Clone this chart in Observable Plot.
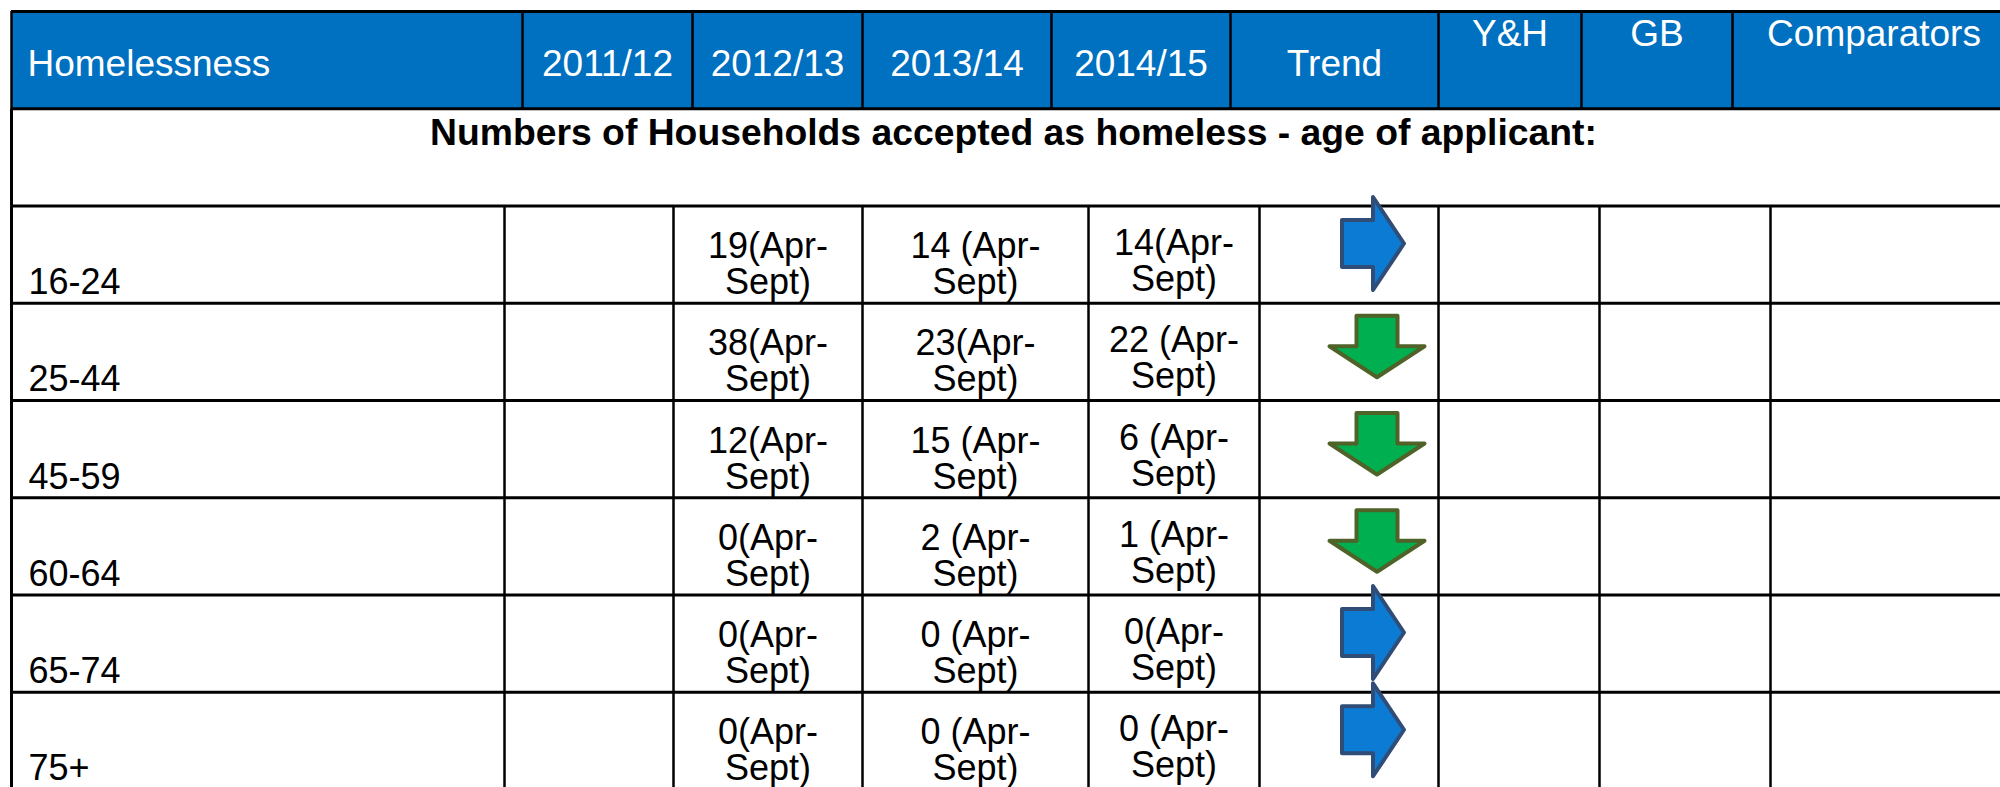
<!DOCTYPE html>
<html><head><meta charset="utf-8">
<script src="https://cdn.jsdelivr.net/npm/d3@7"></script>
<script src="https://cdn.jsdelivr.net/npm/@observablehq/plot@0.6"></script>
<style>html,body{margin:0;padding:0;background:#fff;overflow:hidden}</style>
</head><body><div id="chart"></div>
<script>
// ---- data ----
const headerLabels = ["Homelessness", "2011/12", "2012/13", "2013/14", "2014/15", "Trend", "Y&H", "GB", "Comparators"];
const tableTitle = "Numbers of Households accepted as homeless - age of applicant:";
const ageGroups = ["16-24", "25-44", "45-59", "60-64", "65-74", "75+"];
const values2011 = ["", "", "", "", "", ""];
const values2012 = ["19(Apr-Sept)", "38(Apr-Sept)", "12(Apr-Sept)", "0(Apr-Sept)", "0(Apr-Sept)", "0(Apr-Sept)"];
const values2013 = ["14 (Apr-Sept)", "23(Apr-Sept)", "15 (Apr-Sept)", "2 (Apr-Sept)", "0 (Apr-Sept)", "0 (Apr-Sept)"];
const values2014 = ["14(Apr-Sept)", "22 (Apr-Sept)", "6 (Apr-Sept)", "1 (Apr-Sept)", "0(Apr-Sept)", "0 (Apr-Sept)"];
const trend = ["same", "down", "down", "down", "same", "same"];

// ---- layout ----
const W = 2000, H = 787;
const headerEdges = [11, 522, 692, 862, 1051, 1230, 1438, 1581, 1732, 2015];
const bodyEdges = [11, 504, 673, 862, 1088, 1259, 1438, 1599, 1770, 2015];
const nRows = 2 + ageGroups.length;
const rowH = 97.25;
const FONT = "'Liberation Sans', Arial, Helvetica, sans-serif";
const topAligned = new Set(["Y&H", "GB", "Comparators"]);

const headerCells = headerLabels.map((label, i) => ({
  label, i, x1: headerEdges[i], x2: headerEdges[i + 1],
  cx: i === 0 ? headerEdges[0] + 16 : (headerEdges[i] + headerEdges[i + 1]) / 2
}));

const valueCols = [values2011, values2012, values2013, values2014];
const bodyCells = [];
ageGroups.forEach((g, r) => {
  valueCols.forEach((col, c) => {
    const j = c + 1;
    if (col[r]) bodyCells.push({row: r + 2, col: j, value: col[r],
      cx: (bodyEdges[j] + bodyEdges[j + 1]) / 2});
  });
});
const labels = ageGroups.map((g, r) => ({label: g, row: r + 2}));
const trends = trend.map((t, r) => ({t, row: r + 2}));
const trendX = (bodyEdges[5] + bodyEdges[6]) / 2;

// custom arrow symbols
const rightArrow = {
  draw(ctx, size) {
    const k = Math.sqrt(size / Math.PI) / 31;
    ctx.moveTo(-31 * k, -23.5 * k);
    ctx.lineTo(0, -23.5 * k);
    ctx.lineTo(0, -46.5 * k);
    ctx.lineTo(31 * k, 0);
    ctx.lineTo(0, 46.5 * k);
    ctx.lineTo(0, 23.5 * k);
    ctx.lineTo(-31 * k, 23.5 * k);
    ctx.closePath();
  }
};
const downArrow = {
  draw(ctx, size) {
    const k = Math.sqrt(size / Math.PI) / 31;
    ctx.moveTo(-20.5 * k, -30.5 * k);
    ctx.lineTo(20.5 * k, -30.5 * k);
    ctx.lineTo(20.5 * k, 0);
    ctx.lineTo(47.5 * k, 0);
    ctx.lineTo(0, 31 * k);
    ctx.lineTo(-47.5 * k, 0);
    ctx.lineTo(-20.5 * k, 0);
    ctx.closePath();
  }
};

const wrap = (s) => s.replace("-", "-\n");

const chart = Plot.plot({
  width: W, height: H,
  margin: 0,
  style: {background: "white", fontFamily: FONT},
  x: {type: "linear", domain: [0, W], range: [0, W], axis: null},
  y: {type: "linear", domain: [0, nRows], range: [11, 11 + rowH * nRows], axis: null},
  marks: [
    // header background
    Plot.rect(headerCells, {x1: "x1", x2: "x2", y1: 0, y2: 1, fill: "#0070C0"}),
    // grid lines
    Plot.ruleY(d3.range(0, nRows + 1), {x1: headerEdges[0], x2: headerEdges[headerEdges.length - 1], stroke: "black", strokeWidth: 3}),
    Plot.ruleX(headerEdges, {y1: 0, y2: 1, stroke: "black", strokeWidth: 2.5}),
    Plot.ruleX([headerEdges[0]], {y1: 1, y2: 2, stroke: "black", strokeWidth: 3}),
    Plot.ruleX(bodyEdges, {y1: 2, y2: nRows, stroke: "black", strokeWidth: 2.5}),
    Plot.ruleX([bodyEdges[0]], {y1: 2, y2: nRows, stroke: "black", strokeWidth: 3}),
    // header texts
    Plot.text(headerCells.filter(d => d.i === 0), {
      x: "cx", y: 0, dy: 64, text: "label", lineAnchor: "bottom", textAnchor: "start",
      fill: "white", fontSize: 37, fontFamily: FONT
    }),
    Plot.text(headerCells.filter(d => d.i > 0 && !topAligned.has(d.label)), {
      x: "cx", y: 0, dy: 64, text: "label", lineAnchor: "bottom", textAnchor: "middle",
      fill: "white", fontSize: 37, fontFamily: FONT
    }),
    Plot.text(headerCells.filter(d => topAligned.has(d.label)), {
      x: "cx", y: 0, dy: 34, text: "label", lineAnchor: "bottom", textAnchor: "middle",
      fill: "white", fontSize: 37, fontFamily: FONT
    }),
    // title row
    Plot.text([tableTitle], {
      x: (headerEdges[0] + headerEdges[headerEdges.length - 1]) / 2, y: 1, dy: 36,
      text: d => d, lineAnchor: "bottom", textAnchor: "middle",
      fill: "black", fontWeight: "bold", fontSize: 37.3, fontFamily: FONT
    }),
    // age group labels
    Plot.text(labels, {
      x: bodyEdges[0] + 17, y: "row", dy: 88, text: "label", lineAnchor: "bottom",
      textAnchor: "start", fill: "black", fontSize: 36, fontFamily: FONT
    }),
    // values
    Plot.text(bodyCells.filter(d => d.col < 4), {
      x: "cx", y: "row", dy: 88, text: d => wrap(d.value), lineAnchor: "bottom",
      lineHeight: 1.0, textAnchor: "middle", fill: "black", fontSize: 36, fontFamily: FONT
    }),
    Plot.text(bodyCells.filter(d => d.col === 4), {
      x: "cx", y: "row", dy: 85, text: d => wrap(d.value), lineAnchor: "bottom",
      lineHeight: 1.0, textAnchor: "middle", fill: "black", fontSize: 36, fontFamily: FONT
    }),
    // trend arrows
    Plot.dot(trends.filter(d => d.t === "same"), {
      x: trendX, y: "row", dx: 24, dy: 37.5, r: 31, symbol: rightArrow,
      fill: "#0C7BD3", stroke: "#2F4D77", strokeWidth: 4, strokeLinejoin: "round"
    }),
    Plot.dot(trends.filter(d => d.t === "down"), {
      x: trendX, y: "row", dx: 28, dy: 43, r: 31, symbol: downArrow,
      fill: "#00B050", stroke: "#4F6228", strokeWidth: 4, strokeLinejoin: "round"
    })
  ]
});
document.getElementById("chart").appendChild(chart);
</script>
</body></html>
